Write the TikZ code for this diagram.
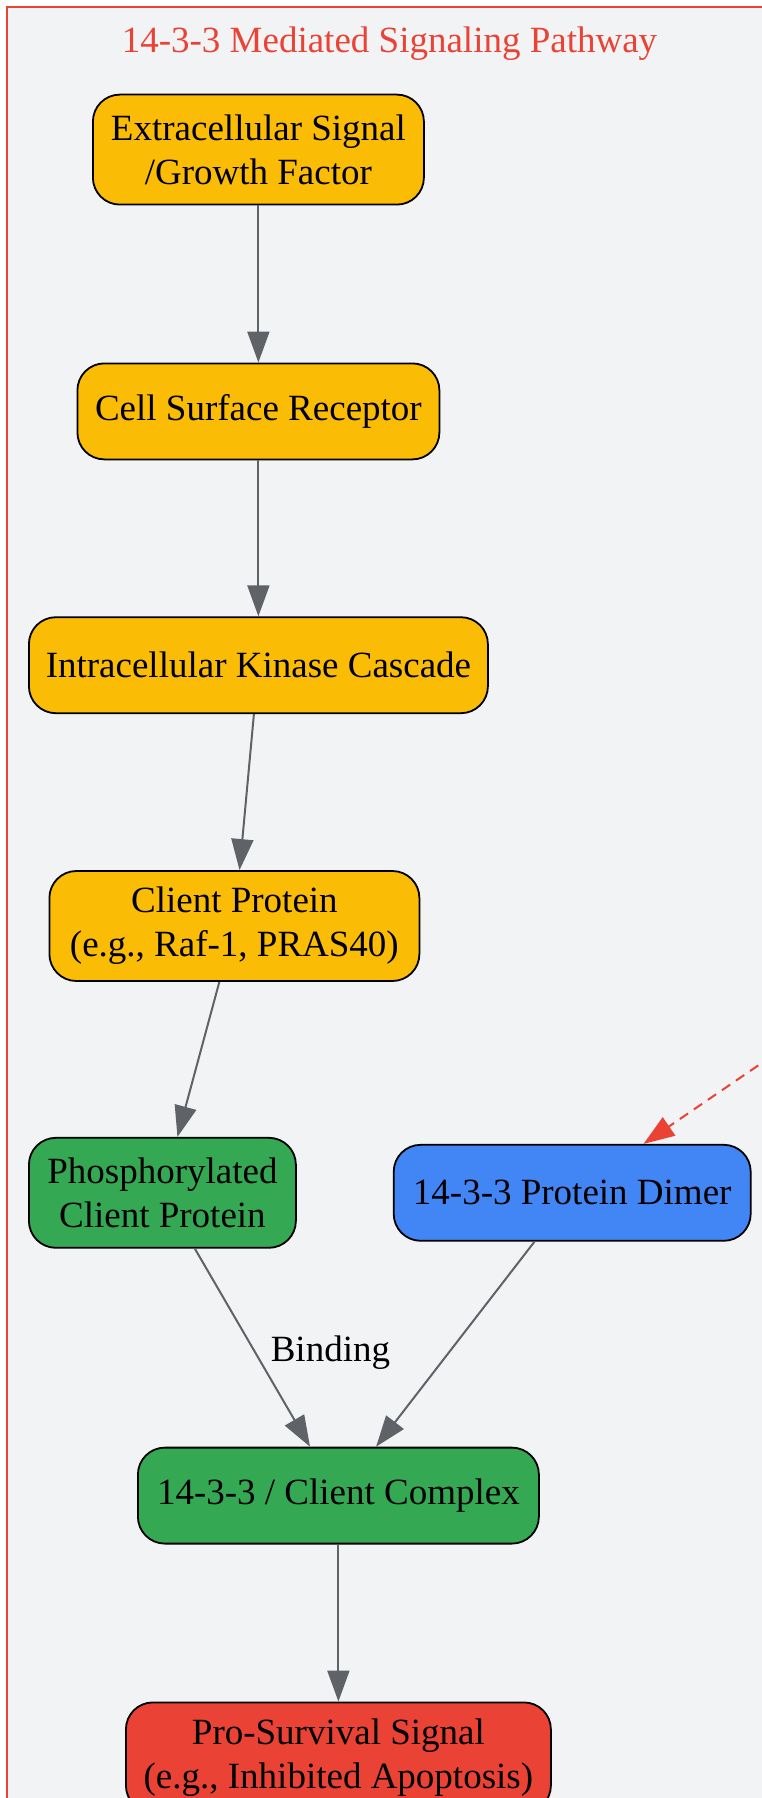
\documentclass[tikz,border=0pt]{standalone}
\usepackage{fontspec}
\setmainfont{Liberation Serif}
\usetikzlibrary{positioning,arrows.meta}

\definecolor{panelgray}{HTML}{F1F3F4}
\definecolor{alertred}{HTML}{EA4335}
\definecolor{signalyellow}{HTML}{FBBC05}
\definecolor{boundgreen}{HTML}{34A853}
\definecolor{dimerblue}{HTML}{4285F4}
\definecolor{edgegray}{HTML}{5F6368}

\begin{document}
\begin{tikzpicture}[x=1pt, y=-1pt,
    box/.style={draw, line width=1.8pt, rounded corners=27pt, align=center,
        font=\fontsize{37}{44}\selectfont, inner sep=0pt, minimum height=96pt},
    twoline/.style={minimum height=110pt},
    flow/.style={draw=edgegray, line width=2pt, -{Triangle[length=31pt,width=22pt]}}]
    \clip (0,0) rectangle (762,1798);
    \fill[white] (0,0) rectangle (762,1798);
    % cluster frame
    \draw[line width=2pt, draw=alertred, fill=panelgray] (7,7) rectangle (830,1880);
    \node[text=alertred, font=\fontsize{37}{44}\selectfont, anchor=base] (title) at (389.5,53)
        {14-3-3 Mediated Signaling Pathway};

    \node[box, twoline, fill=signalyellow, minimum width=331pt] (ext) at (258.4,149.6)
        {Extracellular Signal\\/Growth Factor};
    \node[box, fill=signalyellow, minimum width=362pt, below=157pt of ext] (csr)
        {Cell Surface Receptor};
    \node[box, fill=signalyellow, minimum width=459pt, below=156pt of csr] (kin)
        {Intracellular Kinase Cascade};
    \node[box, twoline, fill=signalyellow, minimum width=370pt, below=156pt of kin, xshift=-24pt] (client)
        {Client Protein\\(e.g., Raf-1, PRAS40)};
    \node[box, twoline, fill=boundgreen, minimum width=267pt, below=155pt of client, xshift=-72pt] (phos)
        {Phosphorylated\\Client Protein};
    \node[box, fill=dimerblue, minimum width=357pt, right=96pt of phos] (dimer)
        {14-3-3 Protein Dimer};
    \node[box, fill=boundgreen, minimum width=401pt, below=198pt of phos, xshift=176pt] (cplx)
        {14-3-3 / Client Complex};
    \node[box, twoline, fill=alertred, minimum width=425pt, below=157pt of cplx] (surv)
        {Pro-Survival Signal\\(e.g., Inhibited Apoptosis)};

    \coordinate (src) at (800.3,1036.6);

    \draw[flow] (ext) -- (csr);
    \draw[flow] (csr) -- (kin);
    \draw[flow] (kin) -- (client);
    \draw[flow] (client) -- (phos);
    \draw[flow] (phos) -- node[midway, anchor=west, xshift=14pt, yshift=-5pt,
        font=\fontsize{37}{44}\selectfont] (bindlbl) {Binding} (cplx);
    \draw[flow] (dimer) -- (cplx);
    \draw[flow] (cplx) -- (surv);
    \draw[flow, draw=alertred, dash pattern=on 10pt off 7pt] (src) -- (dimer);
\end{tikzpicture}
\end{document}
